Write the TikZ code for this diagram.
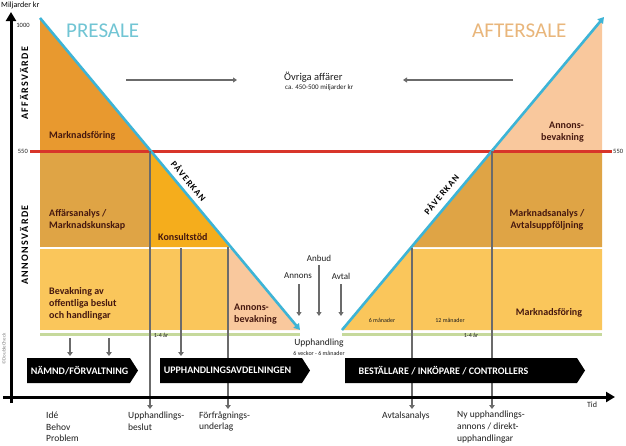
\documentclass[tikz,border=0pt]{standalone}
\usepackage{fontspec}
\setmainfont{Carlito}
\usetikzlibrary{arrows.meta}
\definecolor{cyanline}{HTML}{3DB4D6}
\definecolor{orangeA}{HTML}{E8992F}
\definecolor{tanB}{HTML}{DFA445}
\definecolor{konsult}{HTML}{F5AD1C}
\definecolor{yellowC}{HTML}{FAC65B}
\definecolor{peach}{HTML}{F9C89D}
\definecolor{redline}{HTML}{D8352A}
\definecolor{greenline}{HTML}{C6D99C}
\definecolor{grayarrow}{HTML}{6B6B6B}
\definecolor{labeltext}{HTML}{46180F}
\definecolor{presale}{HTML}{71C5D4}
\definecolor{aftersale}{HTML}{E9B67B}
\definecolor{darktext}{HTML}{1E1E1E}
\begin{document}
\begin{tikzpicture}[x=1pt,y=-1pt,
  region/.style={font=\fontsize{10}{12}\selectfont\bfseries, text=labeltext, inner sep=0pt, align=left},
  vline/.style={draw=grayarrow, line width=2.4pt, -{Triangle[length=4pt,width=5.5pt]}},
  harrow/.style={draw=grayarrow, line width=1.8pt, -{Triangle[length=4pt,width=5pt]}},
  diag/.style={draw=cyanline, line width=2.6pt, -{Triangle[length=6pt,width=7pt]}},
  bannerbox/.style={fill=black},
  bannertext/.style={text=white, font=\fontsize{10}{11}\selectfont\bfseries, inner sep=0pt},
  bottomlabel/.style={font=\fontsize{9.5}{11.6}\selectfont, text=darktext, align=left, inner sep=0pt, anchor=west},
  small/.style={font=\fontsize{6}{7}\selectfont, text=darktext, inner sep=0pt},
  axislabel/.style={font=\fontsize{10}{10}\selectfont\bfseries\addfontfeature{LetterSpace=14}, text=black, rotate=90, inner sep=0pt},
  impact/.style={font=\fontsize{9}{10}\selectfont\bfseries\addfontfeature{LetterSpace=14}, text=black, inner sep=0pt},
  mid/.style={font=\fontsize{9}{10}\selectfont, text=darktext, inner sep=0pt}
]
\useasboundingbox[fill=white] (0,0) rectangle (626,445);

% ---------- left fills ----------
\fill[orangeA] (40,18) -- (150.8,151) -- (40,151) -- cycle;
\fill[tanB] (40,151) rectangle (150,247);
\fill[konsult] (150,151) -- (230.8,247) -- (150,247) -- cycle;
\fill[yellowC] (40,249) rectangle (228,330);
\fill[peach] (228,249) -- (232.5,249) -- (300,330) -- (228,330) -- cycle;

% ---------- right fills ----------
\fill[peach] (491.3,151) -- (602,18.5) -- (602,151) -- cycle;
\fill[tanB] (491.3,151) -- (602,151) -- (602,247) -- (411.2,247) -- cycle;
\fill[yellowC] (409.6,249) -- (602,249) -- (602,330) -- (342,330) -- cycle;

% ---------- green line ----------
\draw[greenline, line width=2.5pt] (40,334.5) -- (300,334.5);
\draw[greenline, line width=2.5pt] (342,334.5) -- (602,334.5);

% ---------- red line ----------
\draw[redline, line width=3pt] (30,151) -- (612,151);

% ---------- diagonals ----------
\coordinate (dl1) at (40,18); \coordinate (dl2) at (300,330);
\coordinate (dr1) at (342,330); \coordinate (dr2) at (604,17);
\draw[diag] (dl1) -- (dl2);
\draw[diag] (dr1) -- (dr2);

% ---------- vertical gray lines ----------
\coordinate (a1t) at (150,151); \coordinate (a1b) at (150,409);
\coordinate (a2t) at (181,248); \coordinate (a2b) at (181,356);
\coordinate (a3t) at (228,247); \coordinate (a3b) at (228,409);
\coordinate (a4t) at (70,338);  \coordinate (a4b) at (70,356);
\coordinate (a5t) at (109,338); \coordinate (a5b) at (109,356);
\coordinate (a6t) at (412,248); \coordinate (a6b) at (412,409);
\coordinate (a7t) at (492,151); \coordinate (a7b) at (492,409);
\foreach \i in {1,...,7} {\draw[vline] (a\i t) -- (a\i b);}

% ---------- axes ----------
\coordinate (yb) at (11,403); \coordinate (yt) at (11,12);
\coordinate (xl) at (3,397); \coordinate (xr) at (615,397);
\draw[line width=3pt, -{Triangle[length=9pt,width=10pt]}] (yb) -- (yt);
\draw[line width=3pt, -{Triangle[length=9pt,width=10pt]}] (xl) -- (xr);

\node[font=\fontsize{8}{9}\selectfont, anchor=west, inner sep=0pt] (unit) at (1,5) {Miljarder kr};
\node[small, font=\fontsize{6.5}{7}\selectfont] (v1000) at (23,25) {1000};
\node[small, font=\fontsize{6.5}{7}\selectfont, anchor=east] (v550l) at (28,151) {550};
\node[small, font=\fontsize{6.5}{7}\selectfont, anchor=west] (v550r) at (613,151) {550};
\node[axislabel] (aff) at (24,83) {AFFÄRSVÄRDE};
\node[axislabel] (ann) at (24,245) {ANNONSVÄRDE};
\node[font=\fontsize{5}{6}\selectfont, text=gray, rotate=90, inner sep=0pt] (copy) at (4,349) {©DoubleCheck};

% ---------- titles ----------
\node[font=\fontsize{21}{21}\selectfont, text=presale, anchor=west, inner sep=0pt] (pre) at (66,30.5) {PRESALE};
\node[font=\fontsize{21}{21}\selectfont, text=aftersale, anchor=west, inner sep=0pt] (after) at (472,31) {AFTERSALE};

% ---------- övriga affärer ----------
\node[font=\fontsize{10.5}{11}\selectfont, text=darktext, anchor=west, inner sep=0pt] (ovr) at (284,77) {Övriga affärer};
\node[small, font=\fontsize{7}{8}\selectfont, anchor=west] (ovr2) at (285,87.5) {ca. 450-500 miljarder kr};
\coordinate (h1s) at (126,80); \coordinate (h1e) at (237,80);
\coordinate (h2s) at (513,80); \coordinate (h2e) at (403,80);
\draw[harrow] (h1s) -- (h1e);
\draw[harrow] (h2s) -- (h2e);

% ---------- påverkan ----------
\node[impact, rotate=-50.2] (pl) at (189,181) {PÅVERKAN};
\node[impact, rotate=50.2] (pr) at (441,194) {PÅVERKAN};

% ---------- region labels ----------
\node[region, anchor=west] (r1) at (49,136) {Marknadsföring};
\node[region, anchor=west] (r2) at (49,220) {Affärsanalys /\\Marknadskunskap};
\node[region, anchor=west] (r3) at (158,237) {Konsultstöd};
\node[region, anchor=west] (r4) at (49,304) {Bevakning av\\offentliga beslut\\och handlingar};
\node[region, anchor=west] (r5) at (234,314) {Annons-\\bevakning};
\node[region, anchor=east, align=right] (r6) at (584,132) {Annons-\\bevakning};
\node[region, align=center] (r7) at (547,220) {Marknadsanalys /\\Avtalsuppföljning};
\node[region] (r8) at (549,313) {Marknadsföring};

\node[small] (m6) at (382,320) {6 månader};
\node[small] (m12) at (450,320) {12 månader};
\node[small] (yl) at (161,335) {1-4 år};
\node[small] (yr) at (471,335) {1-4 år};

% ---------- center ----------
\node[mid] (anbud) at (319,258) {Anbud};
\node[mid] (annons) at (298,276) {Annons};
\node[mid] (avtal) at (341,276) {Avtal};
\coordinate (e1) at (299,316); \coordinate (e2) at (319,316); \coordinate (e3) at (341,316);
\draw[harrow] (annons.south -| e1) ++(0,5) -- (e1);
\draw[harrow] (anbud.south -| e2) ++(0,4) -- (e2);
\draw[harrow] (avtal.south -| e3) ++(0,5) -- (e3);
\node[mid, font=\fontsize{9.5}{10}\selectfont] (upph) at (319,343) {Upphandling};
\node[small] (upph2) at (319,353) {6 veckor - 6 månader};

% ---------- banners ----------
\fill[bannerbox] (27,358) -- (130,358) -- (138,370.5) -- (130,383) -- (27,383) -- cycle;
\fill[bannerbox] (160,358) -- (302,358) -- (310,370.5) -- (302,383) -- (160,383) -- cycle;
\fill[bannerbox] (345,358) -- (577,358) -- (585,370.5) -- (577,383) -- (345,383) -- cycle;
\node[bannertext] (b1) at (79.5,370.5) {NÄMND/FÖRVALTNING};
\node[bannertext] (b2) at (227.5,370.5) {UPPHANDLINGSAVDELNINGEN};
\node[bannertext] (b3) at (443.5,370.5) {BESTÄLLARE / INKÖPARE / CONTROLLERS};

% ---------- bottom labels ----------
\node[bottomlabel] (l1) at (46,427) {Idé\\Behov\\Problem};
\node[bottomlabel] (l2) at (128,421.5) {Upphandlings-\\beslut};
\node[bottomlabel] (l3) at (199,421.5) {Förfrågnings-\\underlag};
\node[bottomlabel] (l4) at (382,416) {Avtalsanalys};
\node[bottomlabel] (l5) at (457,427) {Ny upphandlings-\\annons / direkt-\\upphandlingar};
\node[font=\fontsize{8}{9}\selectfont, text=darktext, inner sep=0pt] (tid) at (592,405) {Tid};
\end{tikzpicture}
\end{document}
